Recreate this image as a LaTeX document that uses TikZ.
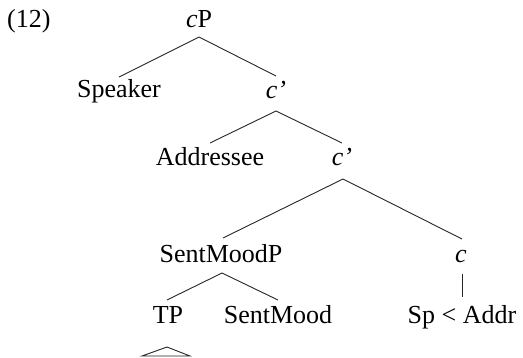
\documentclass[tikz,border=0pt]{standalone}
\usepackage{fontspec}
\setmainfont{Liberation Serif}
\begin{document}
\begin{tikzpicture}[x=1pt,y=-1pt,
  lbl/.style={anchor=base,inner sep=0pt,font=\fontsize{26}{30}\selectfont},
  edge/.style={line width=0.9pt,black!85}]
\useasboundingbox (0,0) rectangle (523,357);
% example number
\node[lbl,anchor=base west] (num) at (7,27) {(12)};
% tree labels
\node[lbl] (cP)    at (199,27)  {\textit{c}P};
\node[lbl] (spk)   at (119,97)  {Speaker};
\node[lbl] (cb1)   at (276,98)  {\textit{c’}};
\node[lbl] (addr)  at (210,165) {Addressee};
\node[lbl] (cb2)   at (342,165) {\textit{c’}};
\node[lbl] (smp)   at (221,262) {SentMoodP};
\node[lbl] (c)     at (461,262) {\textit{c}};
\node[lbl] (tp)    at (168,323) {TP};
\node[lbl] (sm)    at (278,323) {SentMood};
\node[lbl] (spa)   at (462,323) {Sp < Addr};
% branches (shifts are in page units: negative = downwards)
\draw[edge] ([yshift=-10]cP.base) -- ([yshift=20]spk.base);
\draw[edge] ([yshift=-10]cP.base) -- ([yshift=22]cb1.base);
\draw[edge] ([yshift=-13]cb1.base) -- ([yshift=22]addr.base);
\draw[edge] ([yshift=-13]cb1.base) -- ([yshift=22]cb2.base);
\draw[edge] ([xshift=1,yshift=-14]cb2.base) -- ([xshift=2,yshift=24]smp.base);
\draw[edge] ([xshift=1,yshift=-14]cb2.base) -- ([xshift=1,yshift=23]c.base);
\draw[edge] ([xshift=1,yshift=-11]smp.base) -- ([xshift=-1,yshift=23]tp.base);
\draw[edge] ([xshift=1,yshift=-11]smp.base) -- ([yshift=23]sm.base);
\draw[edge] ([xshift=1,yshift=-12]c.base) -- ([yshift=26]spa.base);
% roof under TP
\draw[edge] ([xshift=-1,yshift=-24]tp.base) -- ([xshift=-26,yshift=-33]tp.base) -- ([xshift=22,yshift=-33]tp.base) -- cycle;
\end{tikzpicture}
\end{document}
